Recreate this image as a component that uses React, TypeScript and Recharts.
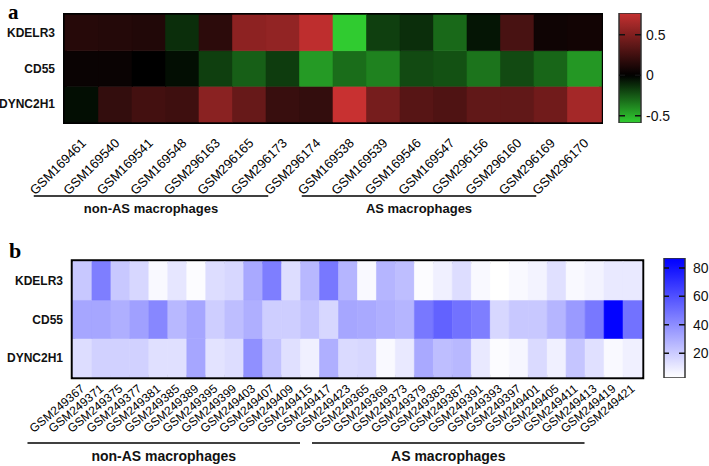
import React from 'react';
import { BarChart, Bar, XAxis, YAxis, Cell, ReferenceArea, ReferenceLine } from 'recharts';

// ---------- data ----------
const genes = ['KDELR3', 'CD55', 'DYNC2H1'];

const samplesA = ['GSM169461', 'GSM169540', 'GSM169541', 'GSM169548', 'GSM296163', 'GSM296165', 'GSM296173', 'GSM296174',
  'GSM169538', 'GSM169539', 'GSM169546', 'GSM169547', 'GSM296156', 'GSM296160', 'GSM296169', 'GSM296170'];
const kdelr3A = [0.15, 0.14, 0.13, -0.13, 0.17, 0.55, 0.57, 0.74, -0.58, -0.18, -0.13, -0.3, -0.06, 0.28, 0.06, 0.07];
const cd55A = [0.04, 0.04, 0.0, -0.04, -0.18, -0.27, -0.17, -0.44, -0.31, -0.37, -0.21, -0.23, -0.33, -0.21, -0.29, -0.43];
const dync2h1A = [-0.04, 0.2, 0.26, 0.24, 0.54, 0.4, 0.22, 0.2, 0.78, 0.46, 0.34, 0.31, 0.38, 0.38, 0.44, 0.64];
const groupsA = ['non-AS macrophages', 'AS macrophages'];
const groupSizesA = [8, 8];
const ticksA = [-0.5, 0, 0.5];
const rangeA = [-0.59, 0.77];

const samplesB = ['GSM249367', 'GSM249371', 'GSM249375', 'GSM249377', 'GSM249381', 'GSM249385', 'GSM249389', 'GSM249395',
  'GSM249399', 'GSM249403', 'GSM249407', 'GSM249409', 'GSM249415', 'GSM249417', 'GSM249423',
  'GSM249365', 'GSM249369', 'GSM249373', 'GSM249379', 'GSM249383', 'GSM249387', 'GSM249391', 'GSM249393',
  'GSM249397', 'GSM249401', 'GSM249405', 'GSM249411', 'GSM249413', 'GSM249419', 'GSM249421'];
const kdelr3B = [21, 45, 21, 16, 5, 11, 4, 14, 16, 31, 45, 14, 26, 47, 27,
  5, 27, 24, 4, 8, 14, 5, 3, 5, 7, 13, 5, 7, 10, 10];
const cd55B = [32, 32, 29, 34, 42, 26, 32, 19, 24, 29, 19, 19, 23, 16, 32,
  31, 29, 27, 47, 54, 49, 45, 16, 21, 21, 27, 36, 47, 85, 49];
const dync2h1B = [14, 18, 18, 18, 13, 13, 32, 12, 14, 39, 23, 13, 8, 29, 15,
  16, 5, 10, 31, 24, 26, 10, 4, 6, 15, 8, 22, 13, 5, 8];
const groupsB = ['non-AS macrophages', 'AS macrophages'];
const groupSizesB = [15, 15];
const ticksB = [20, 40, 60, 80];
const rangeB = [2.5, 87];

// ---------- colour scales ----------
const colorA = (v: number) => {
  if (v >= 0) {
    const t = Math.min(v / 0.8, 1);
    return `rgb(${Math.round(205 * t)},${Math.round(50 * t)},${Math.round(50 * t)})`;
  }
  const t = Math.min(-v / 0.6, 1);
  return `rgb(${Math.round(50 * t)},${Math.round(210 * t)},${Math.round(50 * t)})`;
};
const colorB = (v: number) => {
  const t = Math.max(0, Math.min((v - 3) / 83, 1));
  const c = Math.round(255 * (1 - t));
  return `rgb(${c},${c},255)`;
};

const FONT = 'Arial, "Liberation Sans", sans-serif';

const buildRows = (names: string[], k: number[], c: number[], d: number[]) =>
  names.map((name, i) => ({ name, KDELR3: k[i], CD55: c[i], DYNC2H1: d[i] }));

const rowsA = buildRows(samplesA, kdelr3A, cd55A, dync2h1A);
const rowsB = buildRows(samplesB, kdelr3B, cd55B, dync2h1B);

const RotTick = (props: any) => {
  const { x, y, payload, fs, dx, dy, angle } = props;
  const ax = x + dx;
  const ay = y + dy;
  return (
    <text x={ax} y={ay} transform={`rotate(${angle} ${ax} ${ay})`} textAnchor="end"
      fontSize={fs} fontFamily={FONT} fill="#000">{payload.value}</text>
  );
};

type HeatProps = {
  rows: any[]; color: (v: number) => string; width: number; height: number;
  margin: any; yWidth: number; xHeight: number; fs: number; dx: number; dy: number; frame: number; angle: number;
};

const Heat = ({ rows, color, width, height, margin, yWidth, xHeight, fs, dx, dy, frame, angle }: HeatProps) => (
  <BarChart width={width} height={height} data={rows} margin={margin} barCategoryGap={0} barGap={0}>
    <XAxis dataKey="name" type="category" interval={0} tickLine={false} axisLine={false} tickSize={0}
      height={xHeight} tick={<RotTick fs={fs} dx={dx} dy={dy} angle={angle} />} />
    <YAxis type="number" domain={[0, 3]} ticks={[0.5, 1.5, 2.5]} width={yWidth} tickLine={false} axisLine={false}
      tickSize={0} tickMargin={10} interval={0}
      tickFormatter={(v: number) => genes[2 - Math.floor(v)]}
      tick={{ fontSize: 12, fontWeight: 'bold', fontFamily: FONT, fill: '#111' }} />
    {(['DYNC2H1', 'CD55', 'KDELR3'] as const).map((g) => (
      <Bar key={g} dataKey={() => 1} stackId="s" isAnimationActive={false}>
        {rows.map((r, i) => (
          <Cell key={i} fill={color(r[g])} stroke={color(r[g])} strokeWidth={0.6} />
        ))}
      </Bar>
    ))}
    <ReferenceArea y1={0} y2={3} fill="none" fillOpacity={0} stroke="#000" strokeWidth={frame} ifOverflow="visible" />
  </BarChart>
);

type BarScaleProps = {
  id: string; range: number[]; ticks: number[]; stops: { off: number; col: string }[];
  width: number; height: number; margin: any; tickMargin: number;
};

const ColorBar = ({ id, range, ticks, stops, width, height, margin, tickMargin }: BarScaleProps) => (
  <BarChart width={width} height={height} data={[{ name: 'scale', span: range }]} margin={margin} barCategoryGap={0}>
    <defs>
      <linearGradient id={id} x1="0" y1="0" x2="0" y2="1">
        {stops.map((s, i) => <stop key={i} offset={s.off} stopColor={s.col} />)}
      </linearGradient>
    </defs>
    <XAxis dataKey="name" hide />
    <YAxis type="number" orientation="right" domain={range} ticks={ticks} allowDataOverflow width={40}
      tickLine={false} axisLine={false} tickSize={0} tickMargin={tickMargin} interval={0}
      tickFormatter={(v: number) => String(v)}
      tick={{ fontSize: 14, fontFamily: FONT, fill: '#111', textAnchor: 'start' }} />
    <Bar dataKey="span" fill={`url(#${id})`} stroke="#333" strokeWidth={1.5} isAnimationActive={false} />
    {ticks.map((t) => (
      <ReferenceLine key={t} y={t} stroke="#111" strokeWidth={1.5} strokeDasharray="6 10" />
    ))}
  </BarChart>
);

const makeStops = (range: number[], color: (v: number) => string, n: number) => {
  const out: { off: number; col: string }[] = [];
  for (let i = 0; i <= n; i++) {
    const f = i / n;
    const v = range[1] - f * (range[1] - range[0]);
    out.push({ off: f, col: color(v) });
  }
  return out;
};

const groupLines = (sizes: number[], labels: string[], left: number, bw: number, padL: number, padR: number) => {
  let start = 0;
  return sizes.map((n, gi) => {
    const x1 = left + (start + 0.5) * bw - padL;
    const x2 = left + (start + n - 0.5) * bw - padR;
    start += n;
    return { x1, x2, label: labels[gi] };
  });
};

export default function App() {
  // panel a layout
  const aLeft = 65, aRight = 601, aTop = 15, aBottom = 122;
  const aBw = (aRight - aLeft) / samplesA.length;
  // panel b layout
  const bTop0 = 240;
  const bLeft = 73, bRight = 642, bTop = 261.5, bBottom = 377;
  const bBw = (bRight - bLeft) / samplesB.length;

  const gA = groupLines(groupSizesA, groupsA, aLeft, aBw, 48, 48);
  const gB = groupLines(groupSizesB, groupsB, bLeft, bBw, 55, 48);

  const aH = 230, aXH = 80;
  const bH = 226, bXH = 60;

  return (
    <div style={{ position: 'absolute', left: 0, top: 0, width: 709, height: 466, overflow: 'hidden', background: '#fff' }}>
      <div style={{ position: 'absolute', left: 0, top: 0 }}>
        <Heat rows={rowsA} color={colorA} width={709} height={aH}
          margin={{ top: aTop, left: 0, right: 709 - aRight, bottom: aH - aBottom - aXH }}
          yWidth={aLeft} xHeight={aXH} fs={13} dx={5} dy={20} frame={4} angle={-45} />
      </div>
      <div style={{ position: 'absolute', left: 600, top: 0 }}>
        <ColorBar id="gradA" range={rangeA} ticks={ticksA} stops={makeStops(rangeA, colorA, 40)}
          width={100} height={140} margin={{ top: 13, left: 19, right: 100 - 19 - 22 - 40, bottom: 140 - 123 }}
          tickMargin={5} />
      </div>
      <div style={{ position: 'absolute', left: 0, top: bTop0 }}>
        <Heat rows={rowsB} color={colorB} width={709} height={bH}
          margin={{ top: bTop - bTop0, left: 0, right: 709 - bRight, bottom: bH - (bBottom - bTop0) - bXH }}
          yWidth={bLeft} xHeight={bXH} fs={12} dx={3} dy={11} frame={4.5} angle={-40} />
      </div>
      <div style={{ position: 'absolute', left: 640, top: bTop0 }}>
        <ColorBar id="gradB" range={rangeB} ticks={ticksB} stops={makeStops(rangeB, colorB, 20)}
          width={69} height={150} margin={{ top: 258 - bTop0, left: 24, right: 69 - 24 - 21 - 40, bottom: 150 - (378 - bTop0) }}
          tickMargin={8} />
      </div>
      <svg width={709} height={466} style={{ position: 'absolute', left: 0, top: 0, pointerEvents: 'none' }}>
        <text x={8} y={19} fontSize={21} fontWeight="bold" fontFamily='"Liberation Serif", "Times New Roman", serif' fill="#000">a</text>
        <text x={9} y={258} fontSize={22} fontWeight="bold" fontFamily='"Liberation Serif", "Times New Roman", serif' fill="#000">b</text>
        {gA.map((g) => (
          <g key={g.label}>
            <line x1={g.x1} x2={g.x2} y1={196} y2={196} stroke="#000" strokeWidth={1.5} />
            <text x={(g.x1 + g.x2) / 2} y={213} textAnchor="middle" fontSize={13} fontWeight="bold" fontFamily={FONT} fill="#111">{g.label}</text>
          </g>
        ))}
        {gB.map((g) => (
          <g key={g.label}>
            <line x1={g.x1} x2={g.x2} y1={443} y2={443} stroke="#000" strokeWidth={1.5} />
            <text x={(g.x1 + g.x2) / 2} y={461} textAnchor="middle" fontSize={14} fontWeight="bold" fontFamily={FONT} fill="#111">{g.label}</text>
          </g>
        ))}
      </svg>
    </div>
  );
}
